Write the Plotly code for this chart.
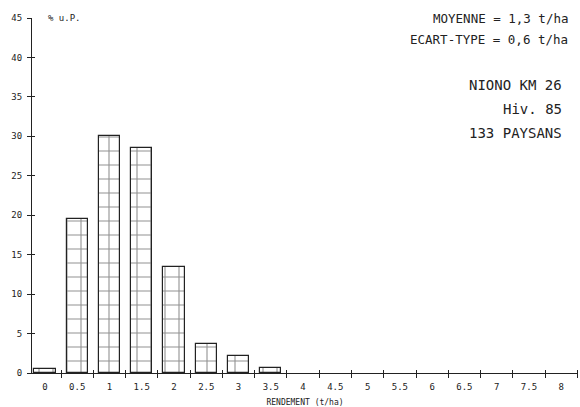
import plotly.graph_objects as go

# Data
rendement = [0, 0.5, 1, 1.5, 2, 2.5, 3, 3.5]          # t/ha (bar centres)
pourcent = [0.5, 19.5, 30.0, 28.5, 13.4, 3.7, 2.1, 0.6]  # % U.P.
x_tick_vals = [0, 0.5, 1, 1.5, 2, 2.5, 3, 3.5, 4, 4.5, 5, 5.5, 6, 6.5, 7, 7.5, 8]
x_tick_text = ["0", "0.5", "1", "1.5", "2", "2.5", "3", "3.5", "4", "4.5", "5",
               "5.5", "6", "6.5", "7", "7.5", "8"]
y_tick_vals = [0, 5, 10, 15, 20, 25, 30, 35, 40, 45]

INK = "#222222"
MONO = "DejaVu Sans Mono"

fig = go.Figure()
fig.add_trace(go.Bar(
    x=rendement, y=pourcent, width=0.33,
    marker=dict(color="white", line=dict(color=INK, width=1.2),
                pattern=dict(shape="+", fgcolor=INK, bgcolor="white",
                             size=14, solidity=0.15)),
    showlegend=False, hoverinfo="x+y",
))
# invisible trace so overlay axes (crossing ticks) are drawn
fig.add_trace(go.Scatter(x=[None], y=[None], xaxis="x2", yaxis="y2",
                         showlegend=False, hoverinfo="skip"))

xr = [-0.2, 8.26]
yr = [0, 45]
fig.update_layout(
    width=580, height=407,
    margin=dict(l=32, r=2, t=18, b=34, autoexpand=False),
    paper_bgcolor="white", plot_bgcolor="white",
    font=dict(family=MONO, color=INK, size=9),
    bargap=0,
    xaxis=dict(range=xr, tickvals=x_tick_vals, ticktext=x_tick_text,
               ticks="", showgrid=False, zeroline=False, automargin=False,
               showline=True, linecolor=INK, linewidth=1.2,
               ticklabelstandoff=5,
               tickfont=dict(family=MONO, size=9, color=INK),
               minor=dict(tick0=0.25, dtick=0.5, ticks="outside", ticklen=4,
                          tickcolor=INK, tickwidth=1.2, showgrid=False),
               title=dict(text="RENDEMENT (t/ha)", standoff=8,
                          font=dict(family=MONO, size=8, color=INK))),
    yaxis=dict(range=yr, tickvals=y_tick_vals, ticks="outside", ticklen=4,
               tickcolor=INK, tickwidth=1.2, showgrid=False, zeroline=False,
               showline=True, linecolor=INK, linewidth=1.2, automargin=False,
               ticklabelstandoff=3,
               tickfont=dict(family=MONO, size=9, color=INK)),
    xaxis2=dict(range=xr, overlaying="x", anchor="y2", showticklabels=False,
                showgrid=False, zeroline=False, showline=False, ticks="",
                automargin=False,
                minor=dict(tick0=0.25, dtick=0.5, ticks="inside", ticklen=3,
                           tickcolor=INK, tickwidth=1.2, showgrid=False)),
    yaxis2=dict(range=yr, overlaying="y", anchor="x2", showticklabels=False,
                tickvals=y_tick_vals, ticks="inside", ticklen=3,
                tickcolor=INK, tickwidth=1.2, showgrid=False, zeroline=False,
                showline=False, automargin=False),
)

annots = [
    dict(text="% u.P.", x=0.025, y=1.0, xanchor="left", yanchor="middle",
         size=9),
    dict(text="MOYENNE = 1,3 t/ha", x=0.985, y=1.0, xanchor="right",
         yanchor="middle", size=12.5),
    dict(text="ECART-TYPE = 0,6 t/ha", x=0.985, y=0.94, xanchor="right",
         yanchor="middle", size=12.5),
    dict(text="NIONO KM 26", x=0.975, y=0.811, xanchor="right",
         yanchor="middle", size=14),
    dict(text="Hiv. 85", x=0.975, y=0.744, xanchor="right",
         yanchor="middle", size=14),
    dict(text="133 PAYSANS", x=0.975, y=0.676, xanchor="right",
         yanchor="middle", size=14),
]
for a in annots:
    fig.add_annotation(text=a["text"], x=a["x"], y=a["y"], xref="paper",
                       yref="paper", xanchor=a["xanchor"],
                       yanchor=a["yanchor"], showarrow=False,
                       font=dict(family=MONO, size=a["size"], color=INK))

fig.write_html("out.html", config={"displayModeBar": False},
               post_script="document.body.style.margin='0';")
